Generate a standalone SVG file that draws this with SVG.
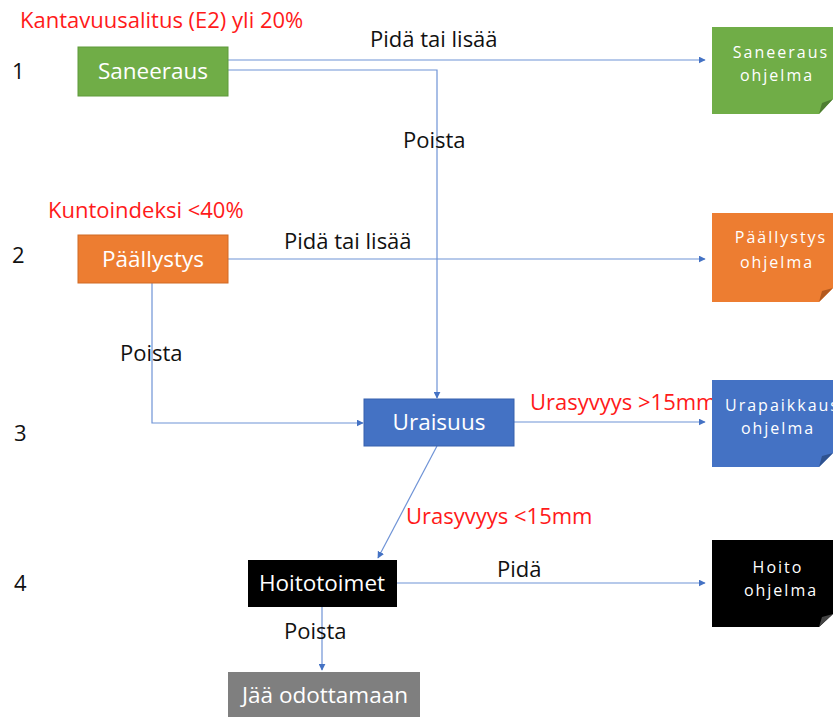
<svg xmlns="http://www.w3.org/2000/svg" width="833" height="717" viewBox="0 0 833 717">
<defs>
<style>
.t{font-family:"Open Sans","Noto Sans",sans-serif;font-size:22px}
.red{fill:#ff1a1a}
.blk{fill:#111}
.wt{fill:#fff;text-anchor:middle;font-size:22.5px}
.pg{fill:#fff;text-anchor:middle;font-size:16px;letter-spacing:2px}
.c{fill:none;stroke:#6f93d6;stroke-width:1.2}
</style>
<marker id="a" viewBox="0 0 10 10" refX="9" refY="5" markerWidth="7" markerHeight="7" orient="auto" markerUnits="userSpaceOnUse">
<path d="M0,0 L10,5 L0,10 z" fill="#4472c4"/>
</marker>
</defs>
<rect width="833" height="717" fill="#fff"/>
<g id="labels" class="t">
<text x="20" y="28" class="red">Kantavuusalitus (E2) yli 20%</text>
<text x="48" y="218" class="red">Kuntoindeksi &lt;40%</text>
<text x="12" y="79" class="blk">1</text>
<text x="12" y="263" class="blk">2</text>
<text x="14" y="441" class="blk">3</text>
<text x="14" y="591" class="blk">4</text>
</g>
<g id="connectors">
<path class="c" d="M228,60 H705" marker-end="url(#a)"/>
<path class="c" d="M228,70 H437 V398" marker-end="url(#a)"/>
<path class="c" d="M228,259 H705" marker-end="url(#a)"/>
<path class="c" d="M152,283 V423 H363" marker-end="url(#a)"/>
<path class="c" d="M514,422 H705" marker-end="url(#a)"/>
<path class="c" d="M437,446 L378,558" marker-end="url(#a)"/>
<path class="c" d="M397,583 H705" marker-end="url(#a)"/>
<path class="c" d="M322,607 V670" marker-end="url(#a)"/>
<g class="t">
<text x="370" y="47" class="blk">Pidä tai lisää</text>
<text x="403" y="148" class="blk">Poista</text>
<text x="284" y="249" class="blk">Pidä tai lisää</text>
<text x="120" y="361" class="blk">Poista</text>
<text x="530" y="410" class="red">Urasyvyys &gt;15mm</text>
<text x="406" y="524" class="red">Urasyvyys &lt;15mm</text>
<text x="497" y="577" class="blk">Pidä</text>
<text x="284" y="639" class="blk">Poista</text>
</g>
</g>
<g id="saneeraus"><rect x="78" y="47" width="150" height="49" fill="#70ad47" stroke="#5e9a3a"/><text class="t wt" x="153" y="79">Saneeraus</text></g>
<g id="paallystys"><rect x="78" y="235" width="150" height="48" fill="#ed7d31" stroke="#d06a25"/><text class="t wt" x="153" y="267">Päällystys</text></g>
<g id="uraisuus"><rect x="364" y="399" width="150" height="47" fill="#4472c4" stroke="#3660ad"/><text class="t wt" x="439" y="430">Uraisuus</text></g>
<g id="hoitotoimet"><rect x="248" y="560" width="149" height="47" fill="#000"/><text class="t wt" x="322" y="591">Hoitotoimet</text></g>
<g id="jaa"><rect x="228" y="672" width="192" height="45" fill="#7f7f7f"/><text class="t wt" x="325" y="703">Jää odottamaan</text></g>
<g id="saneeraus-ohjelma"><path d="M712,27 H833 V99 L819,114 H712 Z" fill="#70ad47"/><path d="M819,114 L822,103 L833,99 Z" fill="#4e7d31"/><text class="t pg" x="781" y="58">Saneeraus</text><text class="t pg" x="777" y="81">ohjelma</text></g>
<g id="paallystys-ohjelma"><path d="M712,213 H833 V288 L819,302 H712 Z" fill="#ed7d31"/><path d="M819,302 L822,291 L833,288 Z" fill="#b35a1f"/><text class="t pg" x="781" y="243">Päällystys</text><text class="t pg" x="777" y="268">ohjelma</text></g>
<g id="urapaikkaus-ohjelma"><path d="M712,380 H833 V453 L819,467 H712 Z" fill="#4472c4"/><path d="M819,467 L822,456 L833,453 Z" fill="#2f528f"/><text class="t pg" x="725" y="411" style="text-anchor:start">Urapaikkaus</text><text class="t pg" x="778" y="434">ohjelma</text></g>
<g id="hoito-ohjelma"><path d="M712,540 H833 V614 L819,627 H712 Z" fill="#000"/><path d="M819,627 L822,617 L833,614 Z" fill="#444"/><text class="t pg" x="778" y="573">Hoito</text><text class="t pg" x="781" y="596">ohjelma</text></g>
</svg>
